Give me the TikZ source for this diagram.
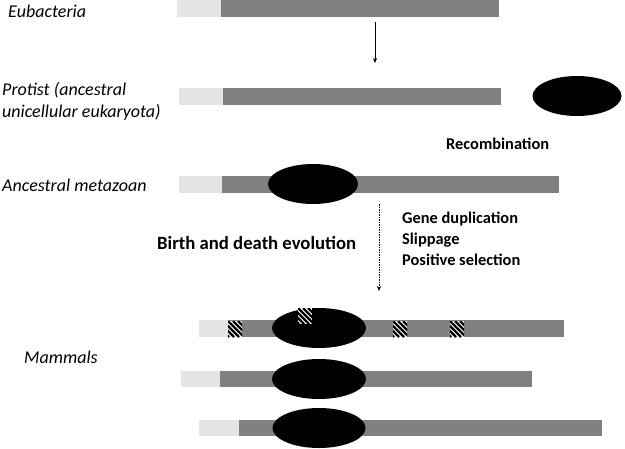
\documentclass[tikz,border=0pt]{standalone}
\usepackage{fontspec}
\setmainfont{Carlito}
\usetikzlibrary{shapes.geometric,arrows.meta}
\begin{document}
\begin{tikzpicture}[x=1pt,y=-1pt,
  lite/.style={fill=black!10,draw=none},
  dark/.style={fill=black!50,draw=none},
  blob/.style={ellipse,fill=black,draw=none,inner sep=0pt},
  lab/.style={anchor=west,inner sep=0pt,font=\fontsize{18}{21}\selectfont\itshape},
  bold/.style={anchor=west,inner sep=0pt,font=\fontsize{16.4}{19}\selectfont\bfseries},
  hatch/.pic={
    \fill[white] (0,0) rectangle (14,-16);
    \begin{scope}
      \clip (0,0) rectangle (14,-16);
      \foreach \k in {-20,-15,...,20} {
        \draw[line width=2.2pt] (\k,-16) -- (\k+16,0);
      }
    \end{scope}
  }]
\useasboundingbox (0,0) rectangle (625,448);
% row 1
\fill[lite] (177,0) rectangle (221,17);
\fill[dark] (221,0) rectangle (499,17);
% row 2
\fill[lite] (179,88) rectangle (223,105);
\fill[dark] (223,88) rectangle (501,105);
\node[blob,minimum width=89pt,minimum height=40pt] (e2) at (577,96) {};
% row 3
\fill[lite] (179,176) rectangle (222,193);
\fill[dark] (222,176) rectangle (559,193);
\node[blob,minimum width=90pt,minimum height=40pt] (e3) at (313,184) {};
% row 4
\fill[lite] (199,320) rectangle (228,337);
\fill[dark] (228,320) rectangle (564,337);
\node[blob,minimum width=94pt,minimum height=40pt] (e4) at (319,328) {};
\pic at (228,337) {hatch};
\pic at (393,337) {hatch};
\pic at (450,337) {hatch};
\pic at (298,324) {hatch};
% row 5
\fill[lite] (181,371) rectangle (220,387);
\fill[dark] (220,371) rectangle (532,387);
\node[blob,minimum width=94pt,minimum height=40pt] (e5) at (319,379) {};
% row 6
\fill[lite] (199,420) rectangle (239,436);
\fill[dark] (239,420) rectangle (602,436);
\node[blob,minimum width=93pt,minimum height=40pt] (e6) at (319,428) {};
% arrows
\coordinate (a1s) at (375,22);
\coordinate (a1e) at (375,63);
\draw[-{Stealth[length=5pt,width=4pt]},line width=0.6pt] (a1s) -- (a1e);
\coordinate (a2s) at (379,204);
\coordinate (a2e) at (379,291);
\draw[-{Stealth[length=5pt,width=4pt]},line width=0.6pt,dash pattern=on 1.5pt off 1pt] (a2s) -- (a2e);
% labels
\node[lab] (eub) at (8,11) {Eubacteria};
\node[lab] (pro1) at (2,90) {Protist (ancestral};
\node[lab] (pro2) at (2,112) {unicellular eukaryota)};
\node[lab] (met) at (2,185) {Ancestral metazoan};
\node[lab] (mam) at (24,357) {Mammals};
\node[bold] (rec) at (446,144) {Recombination};
\node[bold] (gd) at (402,219) {Gene duplication};
\node[bold] (sl) at (402,240) {Slippage};
\node[bold] (ps) at (402,260) {Positive selection};
\node[anchor=west,inner sep=0pt,font=\fontsize{18.7}{22}\selectfont\bfseries] (bd) at (157,243) {Birth and death evolution};
\end{tikzpicture}
\end{document}
